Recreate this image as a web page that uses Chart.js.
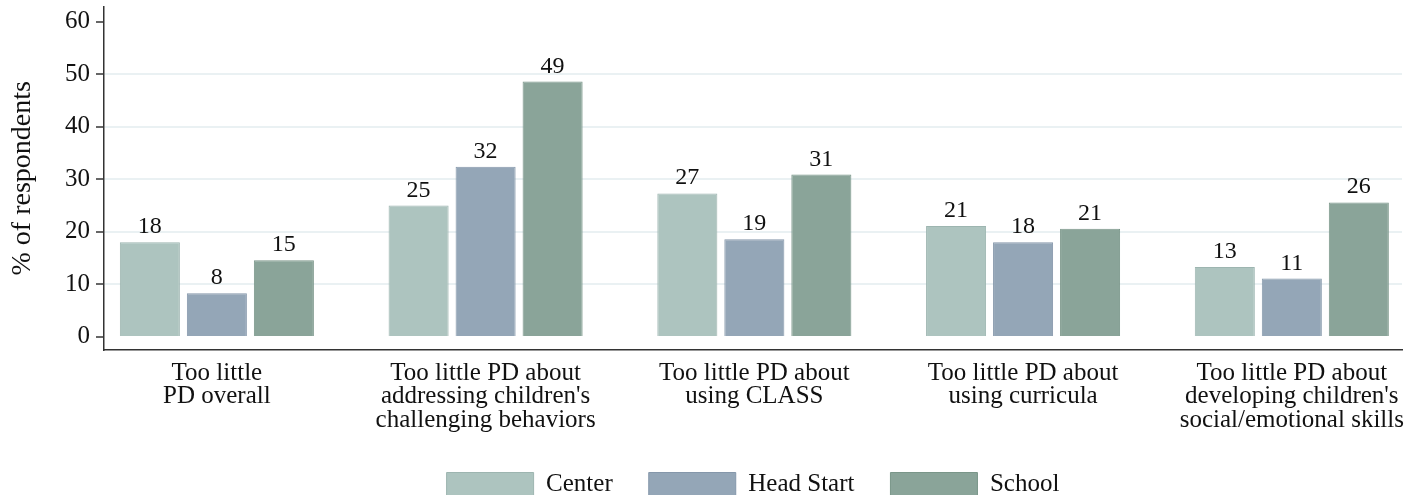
<!DOCTYPE html>
<html>
<head>
<meta charset="utf-8">
<script src="https://cdn.jsdelivr.net/npm/chart.js@4.4.1/dist/chart.umd.min.js"></script>
<style>
  html, body { margin: 0; padding: 0; background: #fff; overflow: hidden; }
  #wrap { width: 1418px; height: 507px; }
</style>
</head>
<body>
<div id="wrap"><canvas id="pdChart"></canvas></div>
<script>
// categories (one array of lines per group)
const categories = [
    ["Too little", "PD overall"],
    ["Too little PD about", "addressing children's", "challenging behaviors"],
    ["Too little PD about", "using CLASS"],
    ["Too little PD about", "using curricula"],
    ["Too little PD about", "developing children's", "social/emotional skills"]
];
const seriesNames = ["Center", "Head Start", "School"];
const center = [18.0, 25.0, 27.3, 21.1, 13.3];
const headStart = [8.3, 32.4, 18.6, 18.0, 11.1];
const school = [14.6, 48.6, 30.9, 20.6, 25.6];
const yTicks = [0, 10, 20, 30, 40, 50, 60];

const fills = ["#adc4bf", "#94a6b7", "#8aa499"];
const edges = ["#9db5b0", "#8597aa", "#7a9689"];

Chart.defaults.font.family = "'Liberation Serif', 'Times New Roman', serif";
Chart.defaults.color = "#111";

function toPoints(arr) {
    return arr.map((v, i) => ({ x: i, y: v }));
}

const valueLabels = {
    id: "valueLabels",
    afterDatasetsDraw(chart) {
        const ctx = chart.ctx;
        ctx.save();
        ctx.font = "24px 'Liberation Serif', serif";
        ctx.fillStyle = "#111";
        ctx.textAlign = "center";
        ctx.textBaseline = "alphabetic";
        chart.data.datasets.forEach((ds, di) => {
            chart.getDatasetMeta(di).data.forEach((bar, i) => {
                ctx.fillText(String(Math.round(ds.data[i].y)), bar.x, bar.y - 9);
            });
        });
        ctx.restore();
    }
};

function noEdgePadding(scale) {
    scale.paddingTop = 0;
    scale.paddingBottom = 0;
    scale.paddingLeft = 0;
    scale.paddingRight = 0;
}

new Chart(document.getElementById("pdChart"), {
    type: "bar",
    data: {
        datasets: [center, headStart, school].map((vals, k) => ({
            label: seriesNames[k],
            data: toPoints(vals),
            backgroundColor: fills[k],
            borderColor: edges[k],
            borderWidth: 1,
            categoryPercentage: 0.748,
            barPercentage: 0.896
        }))
    },
    options: {
        responsive: true,
        maintainAspectRatio: false,
        animation: false,
        layout: { padding: { top: 7, right: 16, left: 0, bottom: 0 } },
        plugins: {
            legend: {
                position: "bottom",
                fullSize: false,
                labels: {
                    boxWidth: 87,
                    boxHeight: 24,
                    padding: 36,
                    color: "#111",
                    font: { size: 25 }
                }
            },
            tooltip: { enabled: false }
        },
        scales: {
            x: {
                type: "linear",
                offset: false,
                min: -0.42,
                max: 4.41,
                afterBuildTicks(scale) {
                    scale.ticks = categories.map((c, i) => ({ value: i }));
                },
                afterFit(scale) {
                    scale.height = 86.5;
                    noEdgePadding(scale);
                },
                ticks: {
                    callback: (v) => categories[v],
                    maxRotation: 0,
                    autoSkip: false,
                    padding: 12,
                    color: "#111",
                    font: { size: 25, lineHeight: 0.94 }
                },
                grid: { display: false, drawTicks: false },
                border: { display: true, color: "#333", width: 1.5 }
            },
            y: {
                min: -2.4,
                max: 62.8,
                afterBuildTicks(scale) {
                    scale.ticks = yTicks.map(v => ({ value: v }));
                },
                afterFit(scale) {
                    scale.width = 104;
                    noEdgePadding(scale);
                },
                ticks: {
                    padding: 6,
                    color: "#111",
                    font: { size: 25 }
                },
                grid: {
                    color: (c) => (c.tick && c.tick.value > 0 && c.tick.value < 60) ? "#eaf1f3" : "rgba(0,0,0,0)",
                    lineWidth: 2,
                    tickColor: "#333",
                    tickLength: 8,
                    tickWidth: 1.5
                },
                border: { display: true, color: "#333", width: 1.5 },
                title: {
                    display: true,
                    text: "% of respondents",
                    color: "#111",
                    font: { size: 28 },
                    padding: { top: 6, bottom: 0 }
                }
            }
        }
    },
    plugins: [valueLabels]
});
</script>
</body>
</html>
